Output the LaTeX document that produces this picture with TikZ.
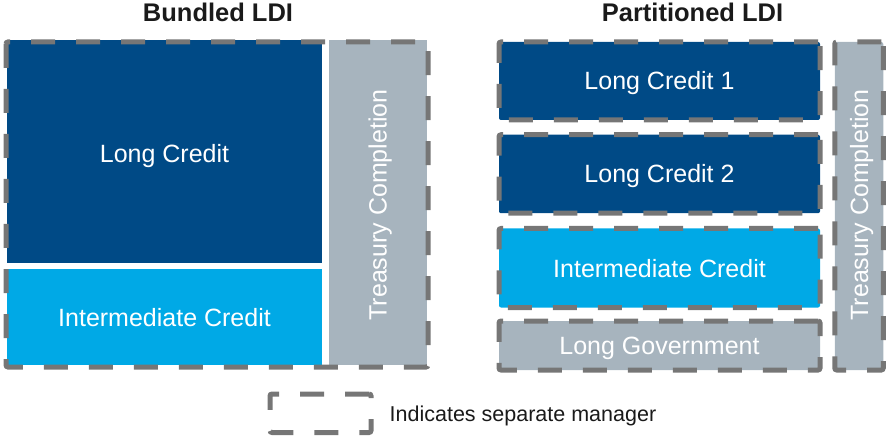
\documentclass[tikz,border=0pt]{standalone}
\usepackage{fontspec}
\setmainfont{Liberation Sans}
\usetikzlibrary{calc}
\definecolor{navy}{HTML}{004A86}
\definecolor{sky}{HTML}{00A9E6}
\definecolor{slate}{HTML}{A7B4BE}
\definecolor{dashgray}{HTML}{767676}
\definecolor{ink}{HTML}{1A1A1A}
\tikzset{
  block/.style={inner sep=0pt, outer sep=0pt, text=white,
    text height=18pt, text depth=0pt,
    font=\fontsize{25}{30}\selectfont},
  mgr/.style={draw=dashgray, line width=5pt, dash pattern=on 24pt off 21pt,
    rounded corners=2pt},
  heading/.style={inner sep=0pt, text=ink, text height=18pt, text depth=0pt,
    font=\bfseries\fontsize{25.5}{30}\selectfont},
  note/.style={inner sep=0pt, text=ink, text height=15.5pt, text depth=0pt,
    font=\fontsize{21.5}{26}\selectfont},
}
\begin{document}
\begin{tikzpicture}[x=1pt, y=-1pt]
\useasboundingbox (0,0) rectangle (888,438);

% headings
\node[heading] (hb) at (218,13) {Bundled LDI};
\node[heading] (hp) at (692.5,13) {Partitioned LDI};

% bundled mandate: one manager for all sleeves
\node[block, fill=navy, minimum width=315pt, minimum height=223pt] (lc) at (164.5,151.5) {};
\node[block] (lct) at (164.5,154) {Long Credit};
\node[block, fill=sky, minimum width=315pt, minimum height=96pt] (ic) at (164.5,317) {Intermediate Credit};
\node[block, fill=slate, minimum width=98pt, minimum height=325pt] (tc) at (378,202.5) {};
\node[block, rotate=90] (tct) at (377.5,205) {Treasury Completion};
\draw[mgr] ($(lc.north west)+(-1,2)$) rectangle ($(tc.south east)+(1,2)$);

% partitioned mandate: a manager per sleeve
\node[block, mgr, fill=navy, minimum width=321pt, minimum height=78pt] (lc1) at (659.5,81) {Long Credit 1};
\node[block, mgr, fill=navy, minimum width=321pt, minimum height=78.5pt] (lc2) at (659.5,174) {Long Credit 2};
\node[block, mgr, fill=sky, minimum width=321pt, minimum height=79pt] (ic2) at (659.5,268) {Intermediate Credit};
\node[block, mgr, fill=slate, minimum width=321pt, minimum height=49pt] (lg) at (659.5,345.5) {Long Government};
\node[block, mgr, fill=slate, minimum width=48.5pt, minimum height=328pt] (tc2) at (859,206) {};
\node[block, rotate=90] (tc2t) at (859,205) {Treasury Completion};

% legend
\node[mgr, inner sep=0pt, minimum width=101pt, minimum height=38.5pt] (key) at (320.5,413.25) {};
\node[note, anchor=west] (keyt) at ($(key.east)+(16,0)$) {Indicates separate manager};
\end{tikzpicture}
\end{document}
